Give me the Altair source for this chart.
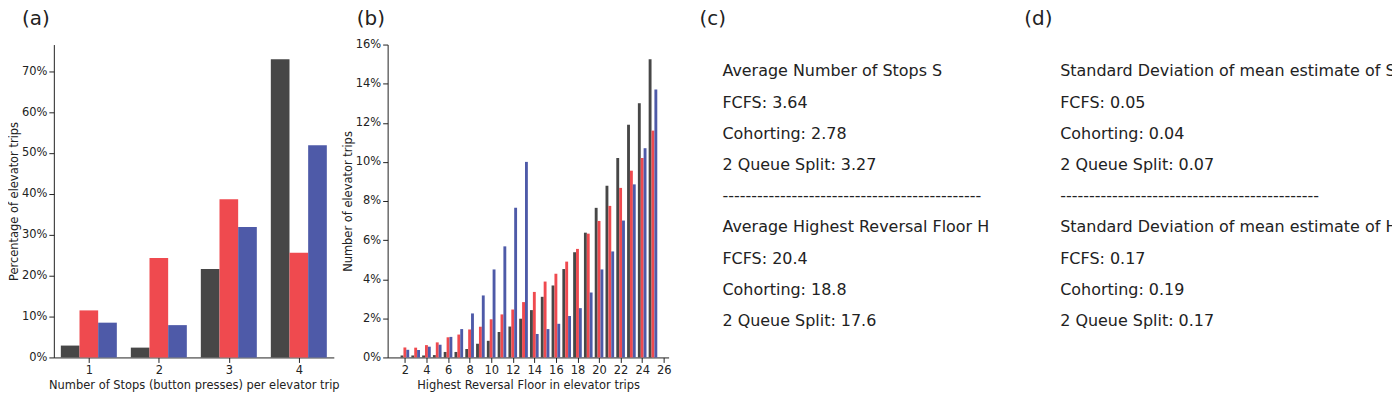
import altair as alt
import pandas as pd

series = ["FCFS", "Cohorting", "2 Queue Split"]
colors = ["#474747", "#ef4a4f", "#4e5aa8"]

# Panel (a): number of stops per trip (percent of trips)
stops = [1, 2, 3, 4]
stops_fcfs = [2.9, 2.4, 21.6, 72.9]
stops_coh = [11.5, 24.3, 38.7, 25.6]
stops_split = [8.5, 7.9, 31.9, 51.9]

# Panel (b): highest reversal floor (percent of trips)
floors = list(range(2, 26))
floor_fcfs = [0.1, 0.1, 0.1, 0.12, 0.28, 0.28, 0.43, 0.7, 0.85, 1.3, 1.58, 1.98,
              2.42, 3.1, 3.68, 4.52, 5.38, 6.38, 7.65, 8.78, 10.2, 11.9, 13.0, 15.25]
floor_coh = [0.51, 0.5, 0.63, 0.77, 1.03, 1.17, 1.43, 1.57, 1.95, 2.2, 2.45, 2.83,
             3.35, 3.88, 4.28, 4.9, 5.55, 6.33, 6.98, 7.75, 8.67, 9.55, 10.2, 11.6]
floor_split = [0.39, 0.38, 0.55, 0.65, 1.05, 1.45, 2.25, 3.17, 4.5, 5.68, 7.65, 10.0,
               1.2, 1.45, 1.72, 2.12, 2.52, 3.32, 4.5, 5.42, 7.0, 8.85, 10.7, 13.7]

stops_ticks = [1, 2, 3, 4]
stops_yticks = [0, 10, 20, 30, 40, 50, 60, 70]
floor_ticks = list(range(2, 27, 2))
floor_yticks = [0, 2, 4, 6, 8, 10, 12, 14, 16]

c_lines = ["Average Number of Stops S", "FCFS: 3.64", "Cohorting: 2.78",
           "2 Queue Split: 3.27", "-" * 45, "Average Highest Reversal Floor H",
           "FCFS: 20.4", "Cohorting: 18.8", "2 Queue Split: 17.6"]
d_lines = ["Standard Deviation of mean estimate of S", "FCFS: 0.05", "Cohorting: 0.04",
           "2 Queue Split: 0.07", "-" * 45, "Standard Deviation of mean estimate of H",
           "FCFS: 0.17", "Cohorting: 0.19", "2 Queue Split: 0.17"]

W = 0.8 / 3
FONT = "DejaVu Sans"
INK = "#222222"


def long_df(cats, vals):
    rows = []
    for i, (s, v) in enumerate(zip(series, vals)):
        for c, y in zip(cats, v):
            rows.append({"cat": c, "series": s, "idx": i, "value": y})
    return pd.DataFrame(rows)


def bar_panel(df, xdomain, xticks, ymax, yticks, xtitle, ytitle, label, dx, dy, width):
    return (
        alt.Chart(df)
        .transform_calculate(
            x0=f"datum.cat + (datum.idx - 1.5) * {W}",
            x1=f"datum.cat + (datum.idx - 0.5) * {W}",
        )
        .mark_bar()
        .encode(
            x=alt.X("x0:Q", scale=alt.Scale(domain=xdomain, nice=False, zero=False),
                    axis=alt.Axis(values=xticks, format="d", title=xtitle, titlePadding=4)),
            x2="x1:Q",
            y=alt.Y("value:Q", scale=alt.Scale(domain=[0, ymax], nice=False),
                    axis=alt.Axis(values=yticks, labelExpr="datum.value + '%'",
                                  title=ytitle, titlePadding=2)),
            y2=alt.datum(0),
            color=alt.Color("series:N", scale=alt.Scale(domain=series, range=colors), legend=None),
        )
        .properties(width=width, height=314,
                    title=alt.TitleParams(label, anchor="start", frame="group", dx=dx, dy=dy))
    )


def text_panel(lines, label, dx, width, clip):
    df = pd.DataFrame({"line": list(range(len(lines))), "text": lines})
    return (
        alt.Chart(df)
        .mark_text(align="left", baseline="alphabetic", font=FONT, fontSize=16,
                   color=INK, clip=clip)
        .encode(
            x=alt.value(0),
            y=alt.Y("line:Q", scale=alt.Scale(domain=[0, 8], range=[32, 282.4]), axis=None),
            text="text:N",
        )
        .properties(width=width, height=314,
                    title=alt.TitleParams(label, anchor="start", frame="group", dx=dx))
    )


a = bar_panel(long_df(stops, [stops_fcfs, stops_coh, stops_split]), [0.5, 4.5], stops_ticks,
              76.5, stops_yticks, "Number of Stops (button presses) per elevator trip",
              "Percentage of elevator trips", "(a)", -32, 0, 281)
b = bar_panel(long_df(floors, [floor_fcfs, floor_coh, floor_split]), [0.4, 26.45], floor_ticks,
              16, floor_yticks, "Highest Reversal Floor in elevator trips",
              "Number of elevator trips", "(b)", -31, 6, 282)
c = text_panel(c_lines, "(c)", -23, 285, False)
d = text_panel(d_lines, "(d)", -36, 333, True)

chart = (
    alt.hconcat(a, b, c, d, spacing=54, bounds="flush")
    .properties(padding={"left": 0, "top": 0, "right": 0, "bottom": 0}, background="white")
    .configure_view(stroke=None)
    .configure_axis(
        grid=False, domainColor=INK, tickColor=INK, labelColor=INK, titleColor=INK,
        labelFont=FONT, titleFont=FONT, labelFontSize=11.5, titleFontSize=11.5,
        titleFontWeight="normal", tickSize=5, labelPadding=2, domainWidth=1, tickWidth=1,
    )
    .configure_title(font=FONT, fontSize=20, fontWeight="normal", color=INK, offset=16)
)

chart.save("out.html", embed_options={"renderer": "svg", "actions": False})
